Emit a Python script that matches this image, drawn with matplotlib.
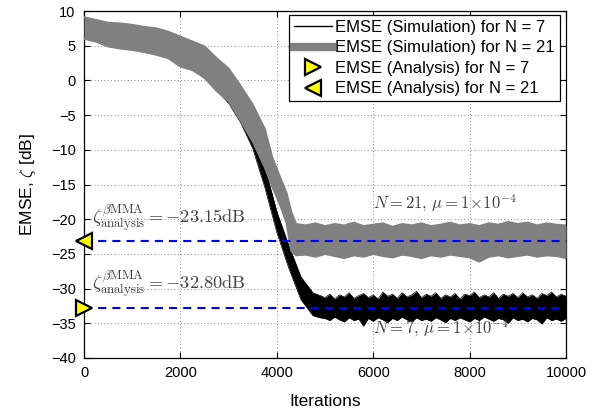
import matplotlib
matplotlib.use("Agg")
import matplotlib.pyplot as plt
from matplotlib.lines import Line2D

plt.rcParams['font.family'] = ['Liberation Sans', 'DejaVu Sans']
plt.rcParams['mathtext.fontset'] = 'cm'

# N = 21 learning curve: upper and lower edge of the trace (dB)
iter_21 = [0, 250, 500, 750, 1000, 1250, 1500, 1750, 2000, 2250, 2500, 2750,
           3000, 3250, 3500, 3750, 3900, 4000, 4100, 4200, 4300, 4400,
           4600, 4800, 5000, 5200, 5400, 5600, 5800, 6000, 6200, 6400, 6600,
           6800, 7000, 7200, 7400, 7600, 7800, 8000, 8200, 8400, 8600, 8800,
           9000, 9200, 9400, 9600, 9800, 10000]
upper_21 = [9.1, 8.7, 8.3, 8.2, 8.0, 7.7, 7.5, 7.0, 6.3, 5.6, 4.9, 3.2,
            1.7, -0.8, -3.5, -7.0, -11.0, -12.8, -14.5, -16.2, -19.0, -20.7,
            -20.9, -20.6, -21.0, -20.7, -20.9, -20.5, -21.0, -20.8, -20.6, -21.1, -20.7,
            -20.9, -20.6, -21.0, -20.8, -20.5, -20.9, -20.7, -21.0, -20.6, -20.8, -20.4,
            -20.7, -20.5, -20.9, -20.6, -20.8, -20.9]
lower_21 = [6.0, 5.6, 4.9, 4.6, 4.4, 4.1, 3.7, 3.2, 2.0, 1.5, 0.4, -1.5,
            -3.0, -5.8, -8.8, -12.5, -15.2, -16.8, -18.5, -20.5, -24.6, -25.2,
            -25.1, -25.4, -25.0, -25.3, -25.6, -25.2, -25.4, -25.0, -25.3, -25.5, -25.1,
            -25.3, -25.6, -25.2, -25.4, -25.1, -25.3, -25.5, -26.1, -25.4, -25.2, -25.5,
            -25.3, -25.1, -25.4, -25.2, -25.3, -25.6]

# N = 7 learning curve: upper and lower edge of the trace (dB)
iter_7 = [0, 250, 500, 750, 1000, 1250, 1500, 1750, 2000, 2250, 2500, 2750,
          3000, 3250, 3500, 3750, 4000, 4250, 4500, 4750, 4900,
          5000, 5100, 5200, 5300, 5400, 5500, 5600, 5700, 5800, 5900,
          6000, 6100, 6200, 6300, 6400, 6500, 6600, 6700, 6800, 6900,
          7000, 7100, 7200, 7300, 7400, 7500, 7600, 7700, 7800, 7900,
          8000, 8100, 8200, 8300, 8400, 8500, 8600, 8700, 8800, 8900,
          9000, 9100, 9200, 9300, 9400, 9500, 9600, 9700, 9800, 9900, 10000]
upper_7 = [8.3, 7.9, 7.4, 7.2, 6.9, 6.6, 6.1, 5.5, 4.5, 3.7, 2.5, 1.0,
           -1.0, -3.8, -7.2, -12.4, -18.9, -23.8, -28.3, -30.6, -31.0,
           -31.3, -30.8, -31.5, -30.9, -31.2, -30.6, -31.4, -31.0, -30.7, -31.3,
           -30.9, -31.5, -30.5, -31.1, -30.8, -31.4, -30.6, -31.2, -30.9, -30.4,
           -31.3, -30.8, -31.1, -30.6, -31.4, -30.9, -31.2, -30.7, -31.5, -30.8,
           -31.0, -30.5, -31.3, -30.9, -31.2, -30.6, -31.4, -30.8, -31.1, -30.7,
           -31.3, -30.6, -31.2, -30.9, -31.4, -30.7, -31.0, -30.5, -31.2, -30.8, -31.1]
lower_7 = [6.5, 6.1, 5.6, 5.3, 5.0, 4.7, 4.2, 3.3, 2.4, 1.6, 0.3, -1.4,
           -3.3, -6.1, -9.8, -15.4, -21.9, -27.1, -31.6, -33.9, -34.2,
           -34.3, -34.6, -34.1, -34.5, -34.8, -34.2, -34.6, -34.4, -35.4, -34.3,
           -34.7, -34.2, -34.5, -34.9, -34.3, -34.6, -34.1, -34.5, -34.8, -34.2,
           -34.6, -34.4, -34.7, -34.2, -34.5, -34.9, -34.3, -34.6, -34.2, -34.5,
           -34.8, -34.3, -34.6, -34.1, -34.4, -34.7, -34.3, -34.5, -35.0, -34.2,
           -34.6, -34.4, -34.8, -34.3, -34.5, -35.1, -34.2, -34.6, -34.4, -34.7, -34.3]

# Steady-state EMSE from the analysis (dB)
emse_7 = -32.80
emse_21 = -23.15

legend_labels = ["EMSE (Simulation) for N = 7",
                 "EMSE (Simulation) for N = 21",
                 "EMSE (Analysis) for N = 7",
                 "EMSE (Analysis) for N = 21"]

x_ticks = [0, 2000, 4000, 6000, 8000, 10000]
y_ticks = [-40, -35, -30, -25, -20, -15, -10, -5, 0, 5, 10]

gray = '#808080'
fig = plt.figure(figsize=(6.07, 4.17), dpi=100)
ax = fig.add_axes([0.1384, 0.1415, 0.7941, 0.8321])

# simulated learning curves
ax.fill_between(iter_7, lower_7, upper_7, color='black', lw=0, zorder=2)
ax.plot(iter_7, upper_7, color='black', lw=0.5, zorder=2)
ax.plot(iter_7, lower_7, color='black', lw=0.5, zorder=2)

ax.fill_between(iter_21, lower_21, upper_21, color=gray, lw=0, zorder=3)
ax.plot(iter_21, upper_21, color=gray, lw=1.5, solid_joinstyle='round', zorder=3)
ax.plot(iter_21, lower_21, color=gray, lw=1.5, solid_joinstyle='round', zorder=3)

# analytical steady-state levels
dash = (0, (3.9, 2.9))
ax.plot([0, 10000], [emse_21, emse_21], color='#0000ff', lw=1.5, ls=dash, zorder=4)
ax.plot([0, 10000], [emse_7, emse_7], color='#0000ff', lw=1.5, ls=dash, zorder=4)
ax.plot([0], [emse_7], marker='>', ms=11, mfc='#ffff00', mec='black', mew=1.6,
        ls='none', clip_on=False, zorder=6)
ax.plot([0], [emse_21], marker='<', ms=11, mfc='#ffff00', mec='black', mew=1.6,
        ls='none', clip_on=False, zorder=6)

txt_color = '#404040'
ax.text(160, -20.7, r'$\zeta^{\beta\mathrm{MMA}}_{\mathrm{analysis}} = -23.15\mathrm{dB}$',
        fontsize=13.2, color=txt_color, ha='left', va='baseline', zorder=5)
ax.text(160, -30.3, r'$\zeta^{\beta\mathrm{MMA}}_{\mathrm{analysis}} = -32.80\mathrm{dB}$',
        fontsize=13.2, color=txt_color, ha='left', va='baseline', zorder=5)
ax.text(6000, -18.5, r'$N=21,\,\mu=1\!\times\!10^{-4}$',
        fontsize=12, color=txt_color, ha='left', va='baseline', zorder=5)
ax.text(6000, -36.4, r'$N=7,\,\mu=1\!\times\!10^{-4}$',
        fontsize=12, color=txt_color, ha='left', va='baseline', zorder=5)

ax.set_xlim(0, 10000)
ax.set_ylim(-40, 10)
ax.set_xticks(x_ticks)
ax.set_yticks(y_ticks)
ax.tick_params(direction='in', length=4, width=0.8, top=True, right=True,
               labelsize=10.5, pad=6)
ax.grid(True, ls=(0, (1, 3)), color='#606060', lw=0.6)
ax.set_axisbelow(True)
for s in ax.spines.values():
    s.set_linewidth(0.9)

ax.set_xlabel('Iterations', fontsize=12.5, labelpad=10)
ax.set_ylabel(r'EMSE, $\zeta$ [dB]', fontsize=12.5, labelpad=9)

handles = [
    Line2D([], [], color='black', lw=1.0),
    Line2D([], [], color=gray, lw=6),
    Line2D([], [], marker='>', ms=11, mfc='#ffff00', mec='black', mew=1.6, ls='none'),
    Line2D([], [], marker='<', ms=11, mfc='#ffff00', mec='black', mew=1.6, ls='none'),
]
leg = ax.legend(handles, legend_labels, loc='upper right',
                bbox_to_anchor=(0.9876, 0.9885), borderaxespad=0,
                fontsize=12, frameon=True, fancybox=False, framealpha=1,
                edgecolor='black', handlelength=2.3, handletextpad=0.2,
                labelspacing=0.33, borderpad=0.3)
leg.get_frame().set_linewidth(0.9)
leg.set_zorder(10)

fig.savefig('out.png', dpi=100)
